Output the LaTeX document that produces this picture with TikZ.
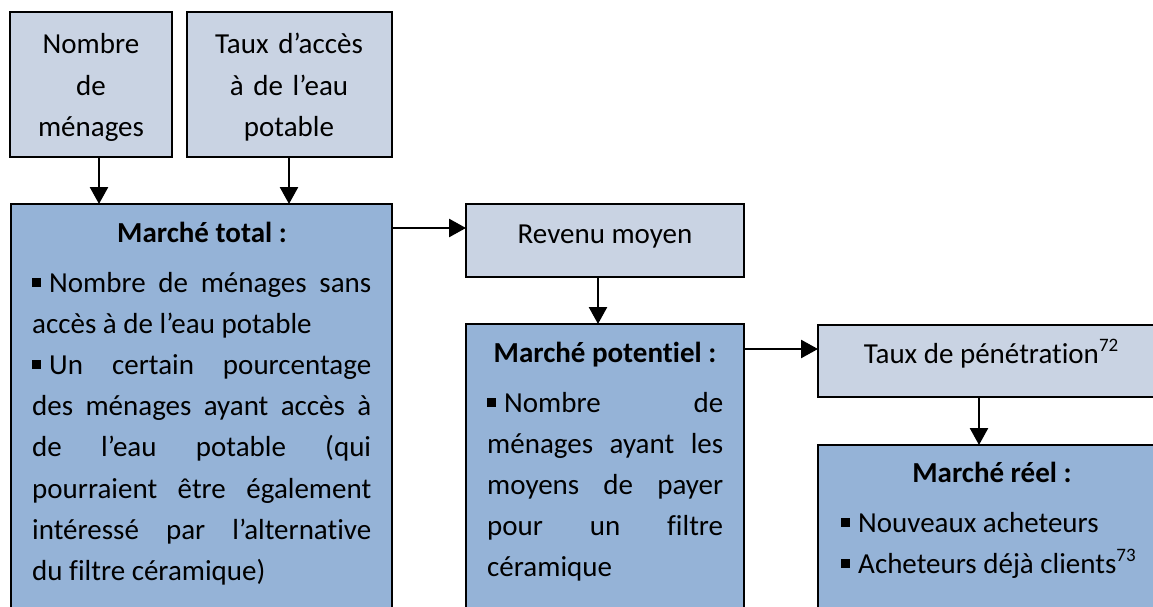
\documentclass[tikz,border=0pt]{standalone}
\usepackage{fontspec}
\setmainfont{Carlito}[Ligatures=NoCommon]
\usetikzlibrary{arrows.meta}
\setlength{\parindent}{0pt}
\definecolor{paleblue}{RGB}{201,211,227}
\definecolor{midblue}{RGB}{149,179,215}
% square bullet as used in the lists
\newcommand\sqb{\rule[5.5pt]{9pt}{9pt}\kern8pt}
% footnote call number
\newcommand\fnref[1]{\raisebox{12pt}{\fontsize{19}{19}\selectfont #1}}

\begin{document}
\begin{tikzpicture}[x=1pt,y=-1pt,
  box/.style={draw=black, line width=2.4pt, anchor=north west, inner sep=0pt, outer sep=0pt},
  lite/.style={box, fill=paleblue},
  dark/.style={box, fill=midblue},
  txt/.style={inner sep=0pt, font=\fontsize{29}{41.2}\selectfont},
  head/.style={inner sep=0pt, font=\fontsize{29}{41.2}\selectfont\bfseries, anchor=base},
  arr/.style={line width=2.6pt, -{Triangle[length=17pt,width=18pt]}}]
\useasboundingbox (0,0) rectangle (1153,607);
\clip (0,0) rectangle (1153,607);

% boxes
\node[lite, minimum width=162pt, minimum height=145pt] (nb)  at (10,12)  {};
\node[lite, minimum width=205pt, minimum height=145pt] (acc) at (187,12) {};
\node[dark, minimum width=381pt, minimum height=436pt] (tot) at (11,204) {};
\node[lite, minimum width=278pt, minimum height=73pt]  (rev) at (466,204) {};
\node[dark, minimum width=278pt, minimum height=316pt] (pot) at (466,324) {};
\node[lite, minimum width=352pt, minimum height=72pt]  (pen) at (818,325) {};
\node[dark, minimum width=352pt, minimum height=195pt] (reel) at (818,445) {};

% texts
\node[txt, text width=160pt, align=center, anchor=base] (nbt) at (91,54)
  {Nombre\\de\\ménages};
\node[txt, text width=200pt, align=center, anchor=base] (acct) at (289,54)
  {Taux d’accès\\à de l’eau\\potable};

\node[head] (tott) at (202,242) {Marché total :};
\node[txt, text width=339pt, align=justify, anchor=base west] (totl) at (32,292)
  {\sqb Nombre de ménages sans\linebreak accès à de l’eau potable\par
   \sqb Un certain pourcentage\linebreak des ménages ayant accès à\linebreak
   de l’eau potable (qui\linebreak pourraient être également\linebreak
   intéressé par l’alternative\linebreak du filtre céramique)};

\node[txt, anchor=base] (revt) at (605,243) {Revenu moyen};

\node[head] (pott) at (605,362) {Marché potentiel :};
\node[txt, text width=236pt, align=justify, anchor=base west] (potl) at (487,412)
  {\sqb Nombre de\linebreak ménages ayant les\linebreak moyens de payer\linebreak
   pour un filtre\linebreak céramique};

\node[txt, anchor=base] (pent) at (991,363) {Taux de pénétration\fnref{72}};

\node[head] (reelt) at (992,482) {Marché réel :};
\node[txt, anchor=base west] (reel1) at (841,532) {\sqb Nouveaux acheteurs};
\node[txt, anchor=base west] (reel2) at (841,573) {\sqb Acheteurs déjà clients\fnref{73}};

% connectors
\coordinate (xa) at (99,0);
\coordinate (xb) at (289,0);
\coordinate (ya) at (0,228);
\coordinate (xc) at (598,0);
\coordinate (yb) at (0,349);
\coordinate (xd) at (979,0);
\draw[arr] (nb.south -| xa) -- (tot.north -| xa);
\draw[arr] (acc.south -| xb) -- (tot.north -| xb);
\draw[arr] (tot.east |- ya) -- (rev.west |- ya);
\draw[arr] (rev.south -| xc) -- (pot.north -| xc);
\draw[arr] (pot.east |- yb) -- (pen.west |- yb);
\draw[arr] (pen.south -| xd) -- (reel.north -| xd);
\end{tikzpicture}
\end{document}
